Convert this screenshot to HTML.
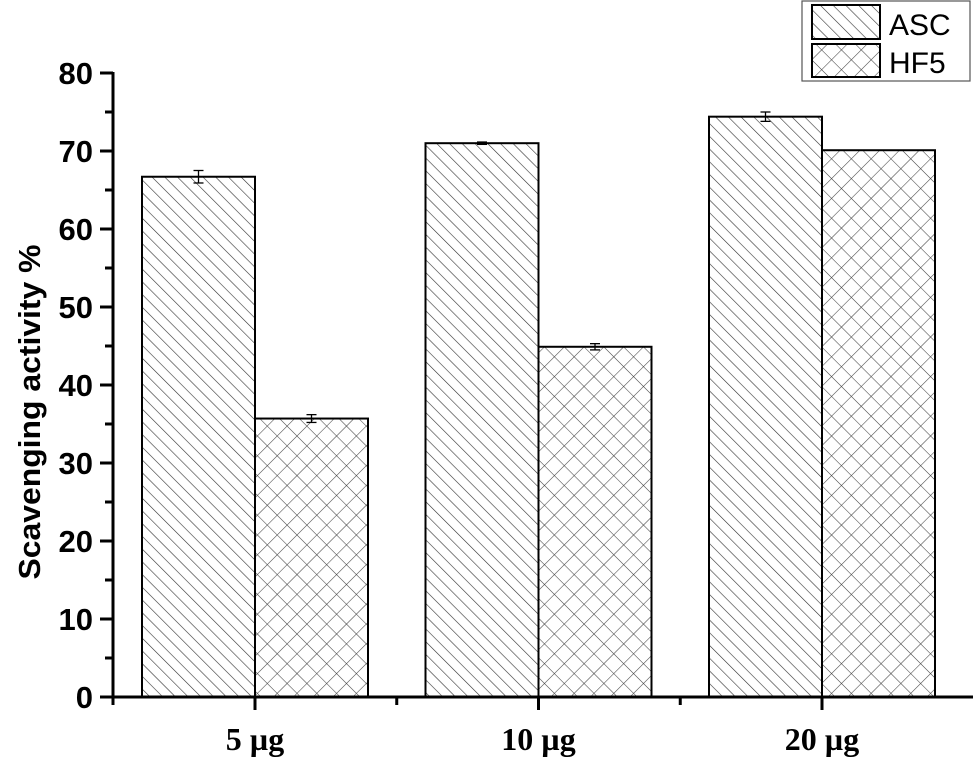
<!DOCTYPE html>
<html><head><meta charset="utf-8"><style>
html,body{margin:0;padding:0;background:#fff;}
svg{display:block;font-family:"Liberation Sans",Arial,sans-serif;}
</style></head><body>
<svg id="chart" width="974" height="758" viewBox="0 0 974 758">
<defs>
<pattern id="pAsc" patternUnits="userSpaceOnUse" width="9" height="9" patternTransform="rotate(-45)">
<rect width="9" height="9" fill="#fff"/><line x1="0" y1="0" x2="0" y2="9" stroke="#333" stroke-width="1.2"/>
</pattern>
<pattern id="pHf" patternUnits="userSpaceOnUse" width="14" height="14" patternTransform="rotate(45)">
<rect width="14" height="14" fill="#fff"/><line x1="0" y1="0" x2="0" y2="14" stroke="#444" stroke-width="1.1"/><line x1="0" y1="0" x2="14" y2="0" stroke="#444" stroke-width="1.1"/>
</pattern>
</defs>
<g id="bars"></g>
<g id="axes"></g>
<text x="40" y="412" transform="rotate(-90 40 412)" text-anchor="middle" font-size="31" font-weight="bold" textLength="335" lengthAdjust="spacingAndGlyphs">Scavenging activity %</text>
<g>
<rect x="802" y="1" width="168" height="80" fill="#fff" stroke="#555" stroke-width="1.2"/>
<rect x="812" y="5" width="68" height="34" fill="url(#pAsc)" stroke="#000" stroke-width="2"/>
<text x="889" y="35" font-size="30">ASC</text>
<rect x="812" y="44" width="68" height="33" fill="url(#pHf)" stroke="#000" stroke-width="2"/>
<text x="889" y="73" font-size="30">HF5</text>
</g>
</svg>
<script>
const categories = ["5 µg", "10 µg", "20 µg"];
const ascValues = [66.7, 71.0, 74.4];
const ascErrors = [0.8, 0.15, 0.6];
const hf5Values = [35.7, 44.9, 70.1];
const hf5Errors = [0.5, 0.4, 0];
const yTicks = [0, 10, 20, 30, 40, 50, 60, 70, 80];

const NS = "http://www.w3.org/2000/svg";
const x0 = 113, groupW = 283.5, firstCenter = 255, barW = 113;
const yPix = v => 697 - v * 7.8;
const xCenter = i => firstCenter + i * groupW;
function mk(tag, attrs, parent) {
  const e = document.createElementNS(NS, tag);
  for (const k in attrs) e.setAttribute(k, attrs[k]);
  parent.appendChild(e);
  return e;
}
const bars = document.getElementById("bars");
const axes = document.getElementById("axes");
function drawErr(cx, v, err, name) {
  if (!err) return;
  const g = mk("g", {stroke: "#000", "stroke-width": 1.3}, bars);
  
  
  mk("line", {x1: cx, x2: cx, y1: yPix(v + err), y2: yPix(v - err)}, g);
  mk("line", {x1: cx - 5, x2: cx + 5, y1: yPix(v + err), y2: yPix(v + err)}, g);
  mk("line", {x1: cx - 5, x2: cx + 5, y1: yPix(v - err), y2: yPix(v - err)}, g);
}
categories.forEach((c, i) => {
  const cx = xCenter(i);
  const a = mk("rect", {x: cx - barW, y: yPix(ascValues[i]), width: barW, height: yPix(0) - yPix(ascValues[i]), fill: "url(#pAsc)", stroke: "#000", "stroke-width": 2}, bars);
  
  
  const h = mk("rect", {x: cx, y: yPix(hf5Values[i]), width: barW, height: yPix(0) - yPix(hf5Values[i]), fill: "url(#pHf)", stroke: "#000", "stroke-width": 2}, bars);
  
  
  drawErr(cx - barW / 2, ascValues[i], ascErrors[i], 'error-bar-asc-' + i);
  drawErr(cx + barW / 2, hf5Values[i], hf5Errors[i], 'error-bar-hf5-' + i);
  const t = mk("text", {x: cx, y: 750, "text-anchor": "middle", "font-size": 32, "font-weight": "bold", "font-family": "Liberation Serif, serif"}, axes);
  t.textContent = c;
  
  
  mk("line", {x1: cx, x2: cx, y1: 697, y2: 710, stroke: "#000", "stroke-width": 3}, axes);
  if (i < categories.length - 1) mk("line", {x1: cx + groupW / 2, x2: cx + groupW / 2, y1: 697, y2: 705, stroke: "#000", "stroke-width": 3}, axes);
});
mk("line", {x1: x0, x2: x0, y1: 697, y2: 705, stroke: "#000", "stroke-width": 3}, axes);
const ya = mk("line", {x1: x0, x2: x0, y1: yPix(80) - 1, y2: 698.5, stroke: "#000", "stroke-width": 3}, axes);


const xa = mk("line", {x1: x0 - 1.5, x2: 973, y1: 697, y2: 697, stroke: "#000", "stroke-width": 3}, axes);


yTicks.forEach(v => {
  mk("line", {x1: x0 - 13, x2: x0, y1: yPix(v), y2: yPix(v), stroke: "#000", "stroke-width": 3}, axes);
  if (v < 80) mk("line", {x1: x0 - 8, x2: x0, y1: yPix(v + 5), y2: yPix(v + 5), stroke: "#000", "stroke-width": 3}, axes);
  const t = mk("text", {x: x0 - 20, y: yPix(v) + 11, "text-anchor": "end", "font-size": 31, "font-weight": "bold"}, axes);
  t.textContent = v;
  
  
});
</script>
</body></html>
